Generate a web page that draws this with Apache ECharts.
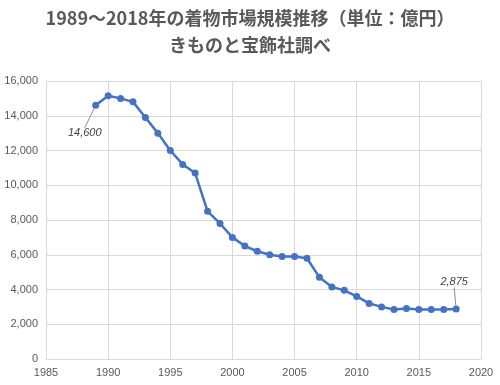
<!DOCTYPE html>
<html><head><meta charset="utf-8">
<script src="https://cdn.jsdelivr.net/npm/echarts@6/dist/echarts.min.js"></script>
<style>html,body{margin:0;padding:0;background:#fff}#c{width:500px;height:385px}</style>
</head><body><div id="c"></div>
<script>
var titleLine1 = '1989～2018年の着物市場規模推移（単位：億円）';
var titleLine2 = 'きものと宝飾社調べ';
var years = [1989,1990,1991,1992,1993,1994,1995,1996,1997,1998,1999,2000,2001,2002,2003,2004,2005,2006,2007,2008,2009,2010,2011,2012,2013,2014,2015,2016,2017,2018];
var values = [14600,15150,15000,14800,13900,13000,12000,11200,10700,8500,7800,7000,6500,6200,6000,5900,5900,5800,4700,4150,3950,3600,3200,3000,2850,2900,2850,2850,2850,2875];
var labelledYears = [1989, 2018];

var chart = echarts.init(document.getElementById('c'));
var data = years.map(function(y, i){
  var item = {value: [y, values[i]]};
  if (labelledYears.indexOf(y) >= 0) {
    item.label = {show: true};
  }
  return item;
});
chart.setOption({
  animation: false,
  title: {
    text: titleLine1 + '\n' + titleLine2,
    left: 'center', top: 0,
    textStyle: {fontFamily: 'Noto Sans CJK JP', fontSize: 18, fontWeight: 'bold', color: '#595959', lineHeight: 27}
  },
  grid: {left: 46, right: 19, top: 81, bottom: 26},
  xAxis: {
    type: 'value', min: 1985, max: 2020, interval: 5,
    axisLine: {show: true, lineStyle: {color: '#d9d9d9'}},
    axisTick: {show: false},
    splitLine: {show: true, lineStyle: {color: '#d9d9d9'}},
    axisLabel: {color: '#595959', fontSize: 11, fontFamily: 'Liberation Sans', margin: 8, showMinLabel: true, showMaxLabel: true,
      formatter: function(v){ return String(v); }}
  },
  yAxis: {
    type: 'value', min: 0, max: 16000, interval: 2000,
    axisLine: {show: false}, axisTick: {show: false},
    splitLine: {show: true, lineStyle: {color: '#d9d9d9'}},
    axisLabel: {color: '#595959', fontSize: 11, fontFamily: 'Liberation Sans', margin: 8,
      formatter: function(v){ return v.toLocaleString('en-US'); }}
  },
  series: [{
    type: 'line',
    data: data,
    symbol: 'circle', symbolSize: 7,
    lineStyle: {color: '#4472C4', width: 2.5},
    itemStyle: {color: '#4472C4'},
    label: {show: false, position: 'inside', color: '#404040', fontSize: 11, fontStyle: 'italic', fontFamily: 'Liberation Sans',
      formatter: function(p){ return p.value[1].toLocaleString('en-US'); }},
    labelLine: {show: true, lineStyle: {color: '#8c8c8c', width: 1}},
    labelLayout: function(p){
      if (p.dataIndex === 0) return {dx: -11, dy: 28};
      return {dx: -2, dy: -27};
    }
  }]
});
</script></body></html>
